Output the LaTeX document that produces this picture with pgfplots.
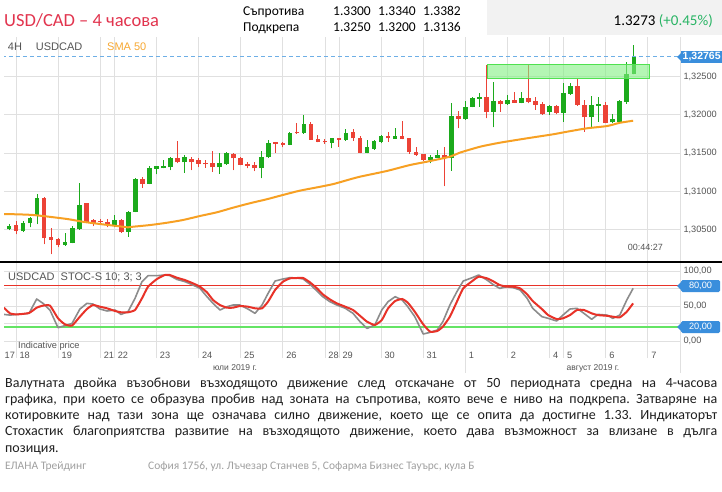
\documentclass[border=0pt]{standalone}
\usepackage{pgfplots}
\pgfplotsset{compat=1.18}
\usepackage{pgfplotstable}
\usepackage{fontspec}
\setmainfont{Carlito}
\newfontfamily\arial{Liberation Sans}
\frenchspacing

\definecolor{cgreen}{RGB}{28,170,28}
\definecolor{cred}{RGB}{236,66,54}
\definecolor{csma}{RGB}{247,160,35}
\definecolor{cgrid}{RGB}{224,224,224}
\definecolor{cblue}{RGB}{58,142,220}
\definecolor{cdash}{RGB}{110,175,230}
\definecolor{ctitle}{RGB}{226,52,78}
\definecolor{clabel}{RGB}{85,85,85}
\definecolor{cboxfill}{RGB}{130,240,130}
\definecolor{cboxdraw}{RGB}{80,225,80}
\definecolor{cstgray}{RGB}{140,140,140}
\definecolor{cstred}{RGB}{232,50,40}
\definecolor{cstgreen}{RGB}{100,228,100}
\definecolor{cheader}{RGB}{242,242,242}
\definecolor{cpct}{RGB}{40,180,100}
\definecolor{cfoot}{RGB}{160,160,160}
\definecolor{csmalab}{RGB}{247,168,50}

% candles: k open high low close
\pgfplotstableread{
k o h l c
0 1.3044 1.3053 1.3043 1.3052
1 1.30505 1.30574 1.30496 1.30552
3 1.30483 1.30614 1.3047 1.30591
4 1.30584 1.3067 1.30531 1.30653
5 1.30692 1.30966 1.30574 1.30918
9 1.303 1.30461 1.3029 1.30339
10 1.3033 1.30548 1.30322 1.30518
11 1.30505 1.31113 1.305 1.30822
16 1.30548 1.30688 1.30531 1.30627
18 1.3047 1.30745 1.30409 1.30735
19 1.30735 1.31175 1.3073 1.31162
21 1.311 1.31327 1.31095 1.31301
22 1.31298 1.31335 1.31223 1.31327
23 1.313 1.3141 1.313 1.31331
24 1.31314 1.31453 1.31279 1.31432
26 1.3138 1.3148 1.31244 1.31449
31 1.31314 1.31497 1.31227 1.31367
32 1.31354 1.31518 1.3135 1.31497
37 1.31301 1.31527 1.31171 1.31453
38 1.31445 1.31671 1.3144 1.31628
41 1.3161 1.31777 1.31605 1.3176
43 1.3176 1.31997 1.31751 1.31876
47 1.31636 1.31693 1.31562 1.31693
49 1.31671 1.31811 1.31662 1.31767
52 1.31505 1.31671 1.31497 1.31575
53 1.31554 1.3167 1.31541 1.31662
54 1.31649 1.31736 1.31627 1.31723
56 1.31688 1.31824 1.31685 1.31723
61 1.3141 1.31475 1.31367 1.31453
62 1.31441 1.31541 1.31436 1.31475
64 1.31432 1.3215 1.3127 1.31985
66 1.31945 1.32176 1.31932 1.32098
67 1.32107 1.32237 1.32098 1.32215
68 1.32206 1.32289 1.32107 1.32228
70 1.3204 1.32432 1.31837 1.32184
72 1.32137 1.32259 1.3213 1.32193
74 1.32158 1.32302 1.3215 1.32215
78 1.3204 1.32128 1.31997 1.32119
80 1.32028 1.32419 1.3191 1.32281
81 1.32272 1.32411 1.32259 1.32376
84 1.31967 1.32245 1.31837 1.32128
85 1.32119 1.32228 1.3191 1.32137
87 1.31902 1.32006 1.31889 1.31945
88 1.3191 1.3219 1.31902 1.32184
89 1.32171 1.32693 1.32141 1.32529
90 1.32529 1.32911 1.32529 1.32765
}\greentab

\pgfplotstableread{
k o h l c
2 1.30561 1.30617 1.3044 1.30487
6 1.30918 1.3093 1.30313 1.30388
7 1.30401 1.30518 1.30183 1.30366
8 1.30375 1.3039 1.3027 1.303
12 1.30845 1.30845 1.30591 1.30604
13 1.30623 1.30644 1.30548 1.30591
14 1.30614 1.30636 1.30584 1.30597
15 1.30604 1.30644 1.30531 1.30574
17 1.30627 1.3064 1.30461 1.3047
20 1.31162 1.31188 1.31048 1.311
25 1.31432 1.31658 1.3137 1.3138
27 1.3142 1.31453 1.31279 1.3138
28 1.31414 1.31432 1.31318 1.31362
29 1.31375 1.3141 1.3131 1.31354
30 1.3137 1.31523 1.31257 1.31314
33 1.31488 1.31495 1.31279 1.31432
34 1.31432 1.3145 1.3134 1.31345
35 1.31357 1.3138 1.313 1.31335
36 1.31345 1.3138 1.31266 1.31301
39 1.31641 1.31649 1.31505 1.31619
40 1.31628 1.31649 1.31575 1.3161
42 1.31781 1.31889 1.31755 1.3176
44 1.3188 1.31906 1.31671 1.31671
45 1.31684 1.31736 1.3164 1.31649
46 1.31662 1.31689 1.31619 1.3164
48 1.31693 1.317 1.31584 1.31671
50 1.31772 1.31811 1.31658 1.31693
51 1.31693 1.31723 1.31497 1.31505
55 1.31723 1.3178 1.31649 1.31693
57 1.31727 1.31923 1.3168 1.31684
58 1.31693 1.317 1.31488 1.3151
59 1.3151 1.31575 1.31462 1.31479
60 1.31488 1.31493 1.31401 1.3141
63 1.31475 1.31584 1.3107 1.31432
65 1.31985 1.3205 1.31824 1.31945
69 1.32228 1.3265 1.31954 1.3204
71 1.3218 1.3219 1.3204 1.32137
73 1.32193 1.32302 1.32154 1.32158
75 1.32215 1.3265 1.3215 1.32171
76 1.3218 1.32237 1.32063 1.32128
77 1.32141 1.32167 1.31997 1.3201
79 1.32115 1.32128 1.32006 1.32028
82 1.32376 1.32463 1.32115 1.32128
83 1.32128 1.32193 1.3178 1.31967
86 1.32128 1.32167 1.31889 1.31897
}\redtab

\pgfplotsset{candle/.style={only marks, mark=*, mark size=0pt, mark options={draw=none, fill=none},
  error bars/.cd, y dir=plus, y explicit, error mark=none}}

\begin{document}
\begin{tikzpicture}
\path[use as bounding box] (0pt,0pt) rectangle (722pt,-491pt);
\clip (0pt,0pt) rectangle (722pt,-491pt);
\begin{scope}[x=1pt,y=-1pt]
\fill[white] (0,0) rectangle (722,491);
\fill[cheader] (487,0) rectangle (722,35);
\end{scope}

% ---------- main price panel ----------
\begin{axis}[
  at={(4pt,-37pt)}, anchor=north west, scale only axis,
  width=676pt, height=225pt,
  xmin=0.285, xmax=96.58, ymin=1.300785, ymax=1.330147,
  axis line style={draw=none},
  major tick length=0pt,
  xtick={2,8,14,16,22,28,34,40,46,48,54,60,66,72,78,80,86,92},
  xticklabels={},
  ytick={1.305,1.310,1.315,1.320,1.325},
  scaled y ticks=false,
  grid=major, major grid style={draw=cgrid, line width=0.8pt},
  yticklabel pos=right,
  yticklabel style={/pgf/number format/.cd, fixed, fixed zerofill, precision=5, use comma, assume math mode=true,
    /tikz/.cd, font=\arial\fontsize{9.2}{10}\selectfont, text=clabel},
]
% wicks
\addplot[candle, error bar style={draw=cgreen, line width=1pt}]
  table[x=k, y=l, y error plus expr=\thisrow{h}-\thisrow{l}] {\greentab};
\addplot[candle, error bar style={draw=cred, line width=1pt}]
  table[x=k, y=l, y error plus expr=\thisrow{h}-\thisrow{l}] {\redtab};
% bodies
\addplot[candle, error bar style={draw=cgreen, line width=4.6pt}]
  table[x=k, y=o, y error plus expr={max(\thisrow{c}-\thisrow{o},0.00009)}] {\greentab};
\addplot[candle, error bar style={draw=cred, line width=4.6pt}]
  table[x=k, y=c, y error plus expr={max(\thisrow{o}-\thisrow{c},0.00009)}] {\redtab};
% SMA 50
\addplot[csma, line width=2pt, smooth, tension=0.4] coordinates {
(0.28,1.30705) (4.42,1.30692) (9.26,1.3064) (11.5,1.30604) (13.96,1.30574) (16.4,1.30548)
(17.95,1.30531) (18.66,1.30539) (21.1,1.30561) (23.5,1.30591) (25.8,1.30627) (28.2,1.30679)
(30.6,1.30727) (32.9,1.30787) (35.3,1.30845) (37.7,1.30897) (40,1.30953) (42.4,1.31009)
(44.9,1.31053) (47.2,1.31096) (49.6,1.31158) (51,1.31192) (54.8,1.31266) (58.1,1.31344)
(60.5,1.31387) (63.8,1.31453) (65.2,1.31505) (68.1,1.31583) (70.9,1.31635) (74.8,1.31693)
(78.5,1.31745) (80.5,1.31779) (83.3,1.31823) (86.2,1.31853) (88,1.31895) (89.9,1.31922)};
% resistance-turned-support zone
\addplot[draw=cboxdraw, line width=1pt, fill=cboxfill, fill opacity=0.6] coordinates {
(69.1,1.32467) (92.2,1.32467) (92.2,1.3266) (69.1,1.3266)} -- cycle;
% last price
\addplot[cdash, line width=0.9pt, dash pattern=on 4pt off 3pt] coordinates {(0,1.32765) (97,1.32765)};
\end{axis}

% ---------- stochastic panel ----------
\begin{axis}[
  at={(4pt,-262pt)}, anchor=north west, scale only axis,
  width=676pt, height=96pt,
  xmin=0.285, xmax=96.58, ymin=-24.29, ymax=112.86,
  axis line style={draw=none},
  major tick length=0pt,
  xtick={2,8,14,16,22,28,34,40,46,48,54,60,66,72,78,80,86,92},
  xticklabels={18,19,21,22,23,24,25,26,28,29,30,31,1,2,4,5,6,7},
  xticklabel style={font=\arial\fontsize{9.2}{10}\selectfont, text=clabel, anchor=west, yshift=2.5pt},
  ytick={0,50,100},
  extra y ticks={25,75}, extra y tick labels={}, extra tick style={grid=major},
  grid=major, major grid style={draw=cgrid, line width=0.8pt},
  yticklabel pos=right,
  yticklabel style={/pgf/number format/.cd, fixed, fixed zerofill, precision=2, use comma, assume math mode=true,
    /tikz/.cd, font=\arial\fontsize{9.2}{10}\selectfont, text=clabel},
]
\addplot[cstred, line width=0.9pt] coordinates {(0,80) (97,80)};
\addplot[cstgreen, line width=2pt] coordinates {(0,20) (97,20)};
\addplot[cstgray, line width=1.6pt, line join=round] coordinates {
(0.28,38) (1.14,37) (2.1,38) (3.85,39.5) (4.94,60) (5.84,53.8) (6.84,44) (7.98,19) (8.97,22)
(9.97,25) (11.1,45.7) (12.1,53.8) (12.96,52.8) (13.96,45.7) (14.96,42.9) (16.1,44.3) (16.95,38)
(17.95,41.9) (18.95,61) (19.94,84.8) (20.8,93.3) (22.08,93.3) (23.2,94.3) (23.9,93.5) (24.9,88)
(26.07,84.8) (27.2,80) (28.2,75.2) (29.2,63.3) (30.06,53.8) (31.05,44.3) (32.05,49) (32.9,51.4)
(33.9,51.4) (35.04,45.7) (36.04,39.5) (37.04,51.4) (37.9,68) (38.9,85.7) (40.03,88.6) (41.03,90.5)
(42.02,90) (42.9,88.6) (43.87,81) (44.87,71.4) (45.7,63.3) (46.7,56.2) (47.7,51.4) (48.9,46.7)
(50,39.5) (51,27.6) (52,18) (53.1,22.9) (54.1,44.3) (55,56.2) (56,63.3) (57,58.6) (57.8,49)
(58.8,34.8) (60,10) (61,12.4) (62,15.7) (62.8,27.6) (63.8,51.4) (64.8,70.5) (65.7,85.7) (67,90.5)
(67.9,94.3) (69.1,87) (69.9,81) (70.9,75.2) (71.9,77.6) (72.8,76.2) (73.8,72.9) (74.8,61)
(75.6,46.7) (76.9,34.8) (77.8,32.4) (79,28.6) (79.9,37) (80.9,45.7) (81.9,46.7) (82.9,39.5)
(84,31) (84.9,38) (86.2,37) (87,32.4) (88,37) (89,58.6) (89.9,75.2)};
\addplot[cstred, line width=2pt, smooth, tension=0.3] coordinates {
(0.28,47.6) (1.14,39.5) (2.1,38) (3.85,40) (4.94,47.6) (5.84,50.5) (6.84,50.5) (7.98,32.4)
(8.97,23.8) (9.97,22) (11.1,34.8) (12.1,45.7) (12.96,51.4) (13.96,49) (14.96,46.7) (16.1,42.9)
(16.95,41) (17.95,41) (18.95,44.3) (19.94,61) (20.8,77.6) (22.08,88.6) (23.2,94.3) (23.9,94.3)
(24.9,90.5) (26.07,87) (27.2,82.4) (28.2,77.6) (29.2,69.5) (30.06,58.6) (31.05,51.4) (32.05,47.6)
(32.9,47.6) (33.9,50) (35.04,49) (36.04,46.7) (37.04,46.7) (37.9,56.2) (38.9,72.9) (40.03,84.8)
(41.03,89.5) (42.02,90) (42.9,90) (43.87,83.8) (44.87,75.2) (45.7,66.7) (46.7,59.5) (47.7,53.8)
(48.9,49) (50,44.3) (51,36) (52,27.6) (53.1,22.9) (54.1,30) (55,46.7) (56,57.1) (57,60)
(57.8,54.8) (58.8,41.9) (60,23.8) (61,13.3) (62,14.3) (62.8,20.5) (63.8,34.8) (64.8,56.2)
(65.7,75.2) (67,85.7) (67.9,91.9) (69.1,89.5) (69.9,85.7) (70.9,80) (71.9,77.6) (72.8,77.6)
(73.8,75.2) (74.8,66.7) (75.6,57.1) (76.9,45.7) (77.8,37) (79,31.4) (79.9,32.4) (80.9,37)
(81.9,44.3) (82.9,44.3) (84,39.5) (84.9,37) (86.2,36) (87,34.8) (88,33.8) (89,41.9) (89.9,53.8)};
\end{axis}

\begin{scope}[x=1pt,y=-1pt]
% ---------- frame lines ----------
\draw[cgrid, line width=0.8pt] (680,37) -- (680,373);
\draw[cgrid, line width=0.8pt] (465.3,356) -- (465.3,373);
\draw[black, line width=2.5pt] (0,262) -- (722,262);

% ---------- badges ----------
\fill[cblue] (681,51) rectangle (724,63);
\fill[cblue] (681,53) -- (677,57) -- (681,61) -- cycle;
\node[text=white, font=\arial\bfseries\fontsize{10.5}{11}\selectfont, anchor=west, inner sep=0] at (682.5,57) {1,32765};
\fill[cblue, rounded corners=1.5pt] (681,280) rectangle (720,292);
\fill[cblue] (681,282) -- (677,286) -- (681,290) -- cycle;
\node[text=white, font=\arial\fontsize{9.2}{10}\selectfont] at (700.5,286) {80,00};
\fill[cblue, rounded corners=1.5pt] (681,321) rectangle (720,333);
\fill[cblue] (681,323) -- (677,327) -- (681,331) -- cycle;
\node[text=white, font=\arial\fontsize{9.2}{10}\selectfont] at (700.5,327) {20,00};

% ---------- chart captions ----------
\node[anchor=base west, inner sep=0, text=clabel, font=\arial\fontsize{11}{12}\selectfont] at (7.7,50) {4H};
\node[anchor=base west, inner sep=0, text=clabel, font=\arial\fontsize{11}{12}\selectfont] at (35.7,50) {USDCAD};
\node[anchor=base west, inner sep=0, text=csmalab, font=\arial\fontsize{11}{12}\selectfont] at (107,50) {SMA 50};
\node[anchor=base east, inner sep=0, text=clabel, font=\arial\fontsize{9}{10}\selectfont] at (663,250) {00:44:27};
\node[anchor=base west, inner sep=0, text=clabel, font=\arial\fontsize{11}{12}\selectfont] at (8,280) {USDCAD\ \ STOC-S 10; 3; 3};
\node[anchor=base west, inner sep=0, text=clabel, font=\arial\fontsize{9.2}{10}\selectfont] at (18,348) {Indicative price};
\node[anchor=west, inner sep=0, text=clabel, font=\arial\fontsize{9.2}{10}\selectfont] at (4.5,355.5) {17};
\node[text=clabel, font=\arial\fontsize{8.5}{10}\selectfont] at (235,368) {юли 2019 г.};
\node[text=clabel, font=\arial\fontsize{8.5}{10}\selectfont] at (593,368) {август 2019 г.};

% ---------- header ----------
\node[anchor=base west, inner sep=0, text=ctitle, font=\fontsize{18.5}{20}\selectfont] at (4,26) {USD/CAD – 4 часова};
\node[anchor=base west, inner sep=0, font=\fontsize{13.5}{15}\selectfont] at (243,15.5) {Съпротива};
\node[anchor=base west, inner sep=0, font=\fontsize{13.5}{15}\selectfont] at (243,31) {Подкрепа};
\node[anchor=base west, inner sep=0, font=\fontsize{13.5}{15}\selectfont] at (333,15.5) {1.3300};
\node[anchor=base west, inner sep=0, font=\fontsize{13.5}{15}\selectfont] at (378,15.5) {1.3340};
\node[anchor=base west, inner sep=0, font=\fontsize{13.5}{15}\selectfont] at (423,15.5) {1.3382};
\node[anchor=base west, inner sep=0, font=\fontsize{13.5}{15}\selectfont] at (333,31) {1.3250};
\node[anchor=base west, inner sep=0, font=\fontsize{13.5}{15}\selectfont] at (378,31) {1.3200};
\node[anchor=base west, inner sep=0, font=\fontsize{13.5}{15}\selectfont] at (423,31) {1.3136};
\node[anchor=base east, inner sep=0, font=\fontsize{15}{16}\selectfont] at (713,25) {1.3273 \textcolor{cpct}{(+0.45\%)}};

% ---------- commentary ----------
\begin{scope}[every node/.style={anchor=base west, inner sep=0, font=\fontsize{14}{16}\selectfont, text={black!88}}]
\node at (5,387) {\makebox[712pt][s]{Валутната двойка възобнови възходящото движение след отскачане от 50 периодната средна на 4-часова}};
\node at (5,403.3) {\makebox[712pt][s]{графика, при което се образува пробив над зоната на съпротива, която вече е ниво на подкрепа. Затваряне на}};
\node at (5,419.6) {\makebox[712pt][s]{котировките над тази зона ще означава силно движение, което ще се опита да достигне 1.33. Индикаторът}};
\node at (5,435.9) {\makebox[712pt][s]{Стохастик благоприятства развитие на възходящото движение, което дава възможност за влизане в дълга}};
\node at (5,452.2) {позиция.};
\end{scope}
\node[anchor=base west, inner sep=0, text=cfoot, font=\fontsize{11.5}{13}\selectfont] at (5,469) {ЕЛАНА Трейдинг};
\node[anchor=base west, inner sep=0, text=cfoot, font=\fontsize{11.5}{13}\selectfont] at (148,469) {София 1756, ул. Лъчезар Станчев 5, Софарма Бизнес Тауърс, кула Б};
\end{scope}
\end{tikzpicture}
\end{document}
